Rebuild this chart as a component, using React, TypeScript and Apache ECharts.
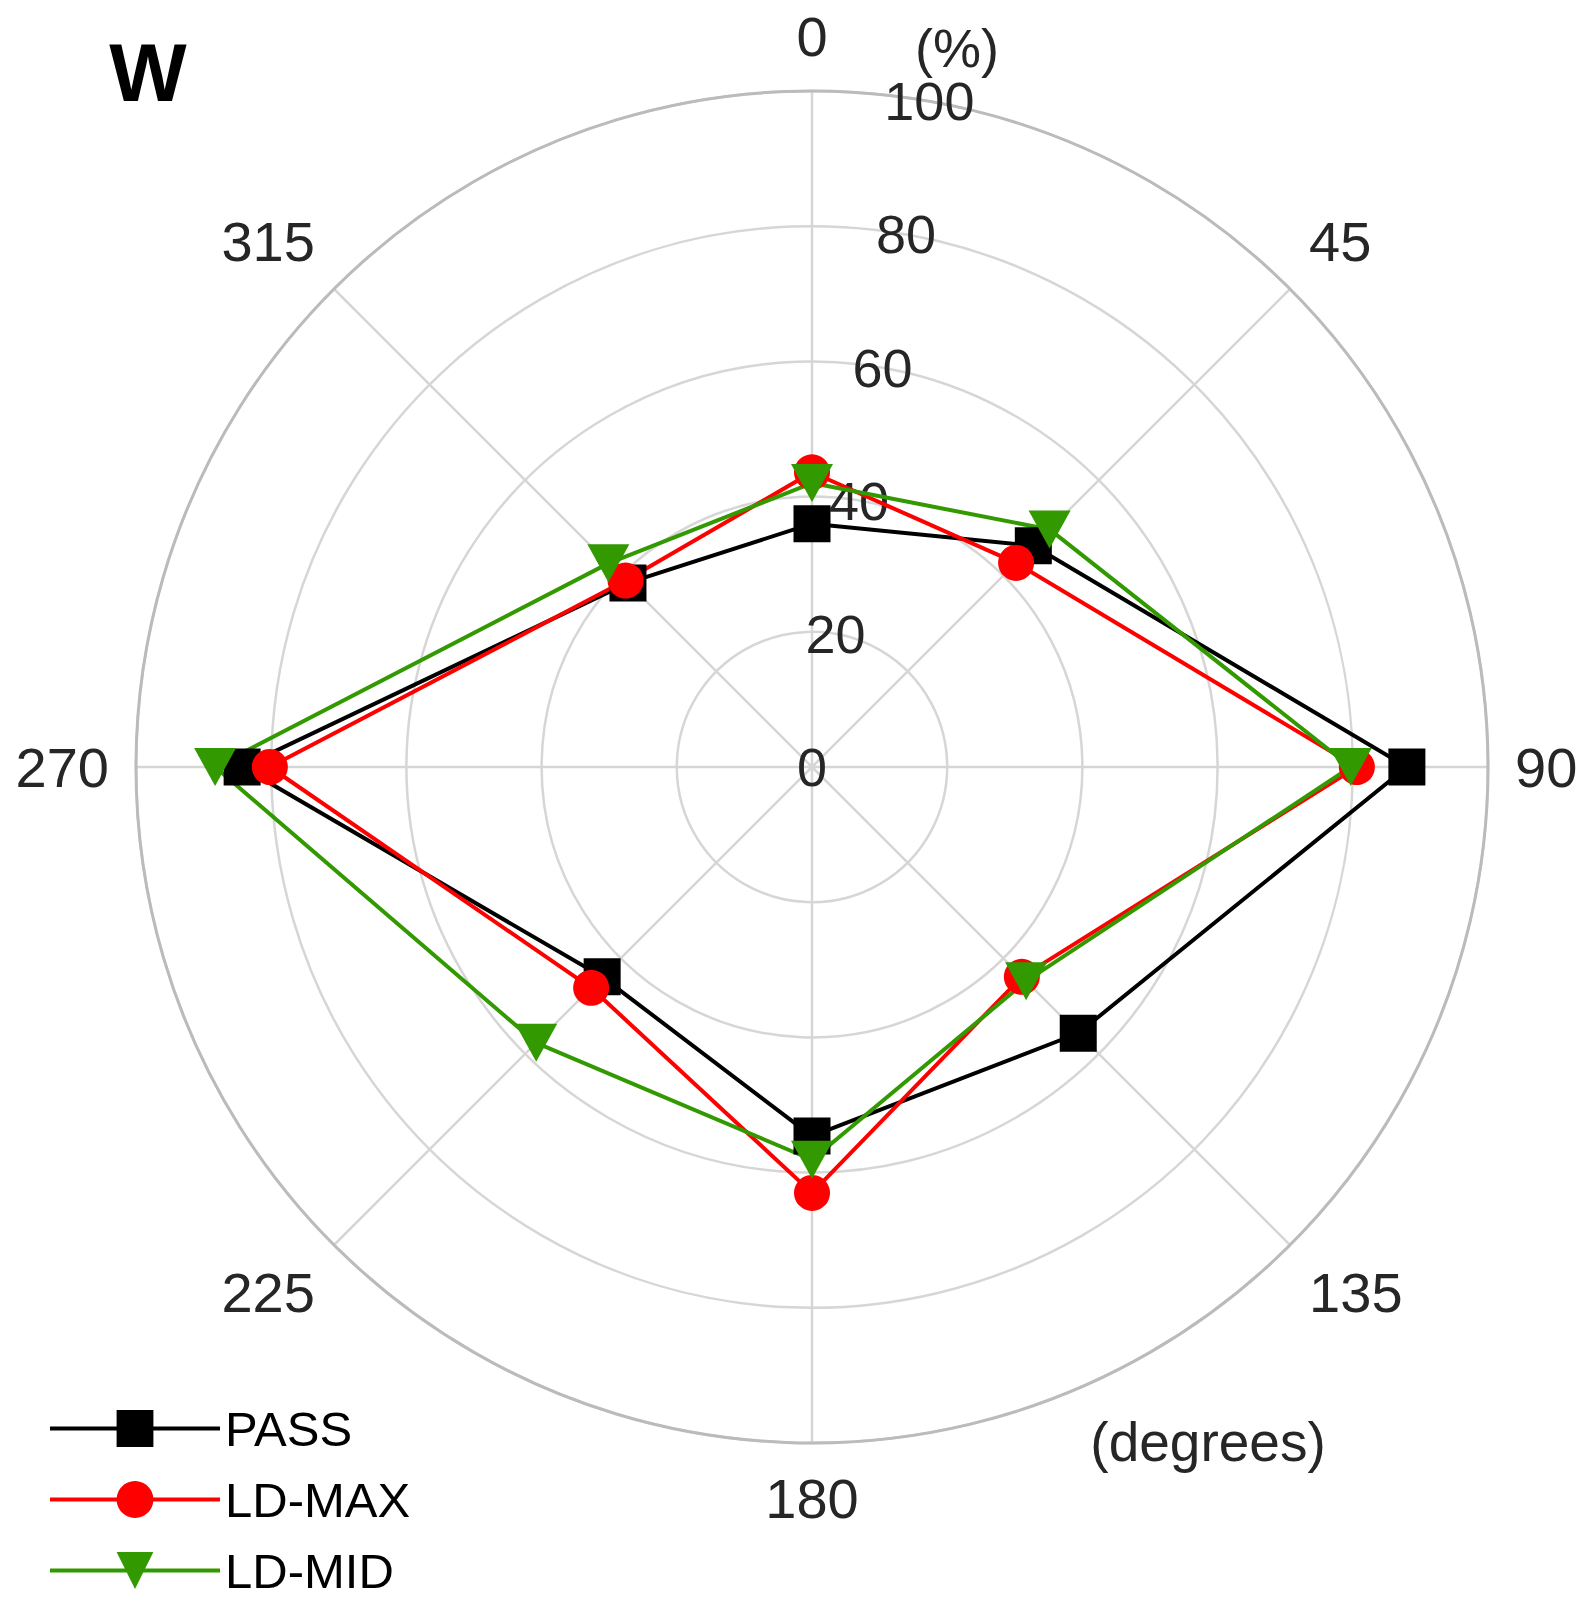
import React, { useEffect, useRef } from "react";
import * as echarts from "echarts";

const angles = [0, 45, 90, 135, 180, 225, 270, 315];
const angleTicks = [0, 45, 90, 135, 180, 225, 270, 315];
const radiusTicks = [0, 20, 40, 60, 80, 100];
const seriesNames = ["PASS", "LD-MAX", "LD-MID"];
const passValues = [36.0, 46.3, 88.0, 55.7, 54.6, 43.9, 84.3, 38.5];
const ldMaxValues = [43.6, 42.7, 80.6, 43.9, 63.0, 46.2, 80.2, 39.0];
const ldMidValues = [42.0, 49.7, 79.7, 44.8, 58.1, 57.7, 88.3, 42.6];
const panelLabel = "W";
const radiusUnit = "(%)";
const angleUnit = "(degrees)";

const FONT = "'Liberation Sans', Arial, Helvetica, sans-serif";

function closedLoop(values: number[]) {
  const pts: any[] = values.map((v, i) => [v, angles[i]]);
  pts.push({ value: [values[0], 360], symbol: "none" });
  return pts;
}

export default function App() {
  const ref = useRef<HTMLDivElement>(null);

  useEffect(() => {
    document.body.style.margin = "0";
    const chart = echarts.init(ref.current!, null, { renderer: "svg" });
    const center = [812, 767];
    const radius = 676;

    const option: any = {
      animation: false,
      backgroundColor: "#ffffff",
      polar: [
        { center, radius },
        { center, radius },
      ],
      angleAxis: [
        {
          polarIndex: 0,
          type: "value",
          min: 0,
          max: 360,
          interval: 45,
          startAngle: 90,
          clockwise: true,
          axisLine: { show: true, lineStyle: { color: "#bbbbbb", width: 3 } },
          axisTick: { show: false },
          axisLabel: {
            show: true,
            margin: 27,
            fontSize: 56,
            color: "#262626",
            fontFamily: FONT,
            formatter: (v: number) => (angleTicks.includes(v) ? String(v) : ""),
          },
          splitLine: { show: true, lineStyle: { color: "#d6d6d6", width: 2.5 } },
        },
        {
          polarIndex: 1,
          type: "value",
          min: 0,
          max: 360,
          startAngle: 80,
          clockwise: true,
          axisLine: { show: false },
          axisTick: { show: false },
          axisLabel: { show: false },
          splitLine: { show: false },
        },
      ],
      radiusAxis: [
        {
          polarIndex: 0,
          type: "value",
          min: 0,
          max: 100,
          interval: 20,
          axisLine: { show: false },
          axisTick: { show: false },
          axisLabel: { show: false },
          splitLine: { show: true, lineStyle: { color: "#d6d6d6", width: 2.5 } },
        },
        {
          polarIndex: 1,
          type: "value",
          min: 0,
          max: 100,
          interval: 20,
          axisLine: { show: false },
          axisTick: { show: false },
          splitLine: { show: false },
          axisLabel: {
            show: true,
            margin: 0,
            align: "center",
            verticalAlign: "middle",
            fontSize: 54,
            color: "#262626",
            fontFamily: FONT,
            formatter: (v: number) => (radiusTicks.includes(v) ? String(v) : ""),
          },
        },
      ],
      legend: {
        data: seriesNames,
        orient: "vertical",
        left: 43,
        top: 1399,
        itemWidth: 170,
        itemHeight: 46,
        itemGap: 22,
        lineStyle: { width: 4 },
        textStyle: { fontSize: 49, color: "#000", fontFamily: FONT },
      },
      series: [
        {
          name: seriesNames[0],
          type: "line",
          coordinateSystem: "polar",
          polarIndex: 0,
          data: closedLoop(passValues),
          symbol: "rect",
          symbolSize: 37,
          lineStyle: { color: "#000000", width: 4 },
          itemStyle: { color: "#000000" },
        },
        {
          name: seriesNames[1],
          type: "line",
          coordinateSystem: "polar",
          polarIndex: 0,
          data: closedLoop(ldMaxValues),
          symbol: "circle",
          symbolSize: 36,
          lineStyle: { color: "#ff0000", width: 4 },
          itemStyle: { color: "#ff0000" },
        },
        {
          name: seriesNames[2],
          type: "line",
          coordinateSystem: "polar",
          polarIndex: 0,
          data: closedLoop(ldMidValues),
          symbol: "triangle",
          symbolRotate: 180,
          symbolSize: [42, 38],
          lineStyle: { color: "#339900", width: 4 },
          itemStyle: { color: "#339900" },
        },
      ],
      graphic: [
        {
          type: "text",
          x: 148,
          y: 72,
          style: {
            text: panelLabel,
            font: `bold 82px ${FONT}`,
            fill: "#000",
            textAlign: "center",
            textVerticalAlign: "middle",
          },
        },
        {
          type: "text",
          x: 957,
          y: 48,
          style: {
            text: radiusUnit,
            font: `54px ${FONT}`,
            fill: "#262626",
            textAlign: "center",
            textVerticalAlign: "middle",
          },
        },
        {
          type: "text",
          x: 1208,
          y: 1442,
          style: {
            text: angleUnit,
            font: `55px ${FONT}`,
            fill: "#262626",
            textAlign: "center",
            textVerticalAlign: "middle",
          },
        },
      ],
    };

    chart.setOption(option);
    return () => chart.dispose();
  }, []);

  return <div ref={ref} style={{ width: 1584, height: 1605 }} />;
}
